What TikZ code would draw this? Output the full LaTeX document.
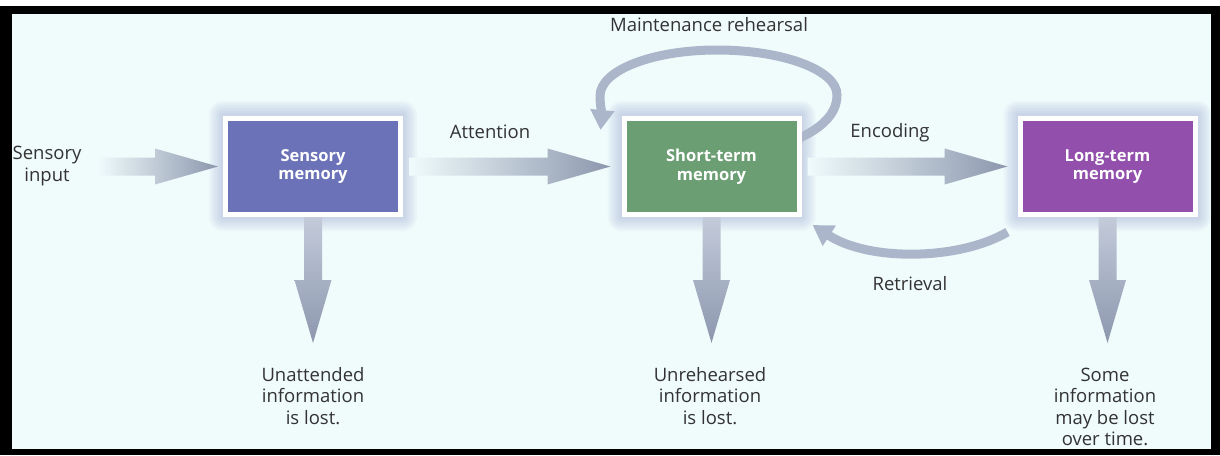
\documentclass[tikz,border=0pt]{standalone}
\usepackage{fontspec}
\setmainfont{Open Sans}
\usetikzlibrary{arrows.meta,calc}
\definecolor{bgc}{HTML}{F0FBFC}
\definecolor{smc}{HTML}{6B72B8}
\definecolor{stc}{HTML}{6B9E73}
\definecolor{ltc}{HTML}{924FAB}
\definecolor{arrd}{HTML}{8C97AE}
\definecolor{arrl}{HTML}{C3CBDA}
\definecolor{loopc}{HTML}{ACB6CA}
\definecolor{txt}{HTML}{333333}
\definecolor{glowc}{HTML}{9AA6D0}
\pgfdeclarelayer{bg}\pgfdeclarelayer{glow}\pgfsetlayers{bg,glow,main}
\newcommand{\HBlock}[2]{\shade[left color=bgc,right color=arrd] ($(#1)+(0,-9)$) -- ($(#2)+(-63,-9)$) -- ($(#2)+(-63,-18)$) -- (#2) -- ($(#2)+(-63,18)$) -- ($(#2)+(-63,9)$) -- ($(#1)+(0,9)$) -- cycle;}
\newcommand{\VBlock}[2]{\shade[top color=arrl,bottom color=arrd] ($(#1)+(-9,0)$) -- ($(#2)+(-9,-63)$) -- ($(#2)+(-18.5,-63)$) -- (#2) -- ($(#2)+(18.5,-63)$) -- ($(#2)+(9,-63)$) -- ($(#1)+(9,0)$) -- cycle;}
\begin{document}
\begin{tikzpicture}[x=1pt,y=-1pt,
 membox/.style={draw=white,line width=5pt,minimum width=175pt,minimum height=96pt,inner sep=0pt,text=white,font=\fontsize{16.5}{18.5}\selectfont\bfseries,align=center},
 lbl/.style={text=txt,font=\fontsize{18.5}{21.5}\selectfont,align=center,inner sep=0pt},
 curvearrow/.style={draw=loopc,line width=9pt,-{Triangle[width=23pt,length=20pt]}},
]
\begin{pgfonlayer}{bg}
\fill[white] (0,0) rectangle (1220,455);
\fill[black] (0,6) rectangle (1220,455);
\fill[bgc] (12,14) rectangle (1211,449);
\end{pgfonlayer}
\useasboundingbox (0,0) rectangle (1220,455);

% boxes
\node[membox,fill=smc] (sm) at (313,166.5) {Sensory\\memory};
\node[membox,fill=stc] (st) at (711.5,166.5) {Short-term\\memory};
\node[membox,fill=ltc] (lt) at (1107.5,166.5) {Long-term\\memory};

% glow
\begin{pgfonlayer}{glow}
\foreach \b in {sm,st,lt}{
  \foreach \i in {2,4,...,14}{
    \fill[glowc,opacity=0.07,rounded corners=\i pt] ($(\b.south west)+(-\i,\i)$) rectangle ($(\b.north east)+(\i,-\i-1)$);
  }
}
% maintenance rehearsal loop
\coordinate (ls) at ($(st.east)+(-10,-25)$);
\coordinate (le) at ($(st.north west)+(-21,14)$);
\draw[curvearrow] (ls) .. controls (820,130) and (837,115) .. (837,95)
  .. controls (837,70) and (783,50) .. (717,50)
  .. controls (653,50) and (600,70) .. (600,96)
  .. controls (600,106) and (602,114) .. (le);
% retrieval
\coordinate (rs) at ($(lt.south west)+(-10,15)$);
\coordinate (re) at ($(st.south east)+(11,8)$);
\draw[curvearrow] (rs) .. controls (960,260) and (870,262) .. (re);
\end{pgfonlayer}

% block arrows
\coordinate (in) at (98,166.5);
\coordinate (t1) at ($(sm.west)+(-5,0)$);
\coordinate (a0) at ($(sm.east)+(6,0)$);
\coordinate (t2) at ($(st.west)+(-11,0)$);
\coordinate (e0) at ($(st.east)+(6,0)$);
\coordinate (t3) at ($(lt.west)+(-10,0)$);
\HBlock{in}{t1}
\HBlock{a0}{t2}
\HBlock{e0}{t3}
\coordinate (d1) at ($(sm.south)+(0,126)$);
\coordinate (d2) at ($(st.south)+(0,126)$);
\coordinate (d3) at ($(lt.south)+(0,126)$);
\VBlock{sm.south}{d1}
\VBlock{st.south}{d2}
\VBlock{lt.south}{d3}

% labels
\node[lbl] (inp) at (47,166) {Sensory\\input};
\node[lbl] (att) at (490,132) {Attention};
\node[lbl] (enc) at (890,133) {Encoding};
\node[lbl] (mr) at (709,25) {Maintenance rehearsal};
\node[lbl] (ret) at (910,284) {Retrieval};
\node[lbl] (ul) at (313,396) {Unattended\\information\\is lost.};
\node[lbl] (ur) at (710,396) {Unrehearsed\\information\\is lost.};
\node[lbl] (ll) at (1105,407) {Some\\information\\may be lost\\over time.};
\end{tikzpicture}
\end{document}
